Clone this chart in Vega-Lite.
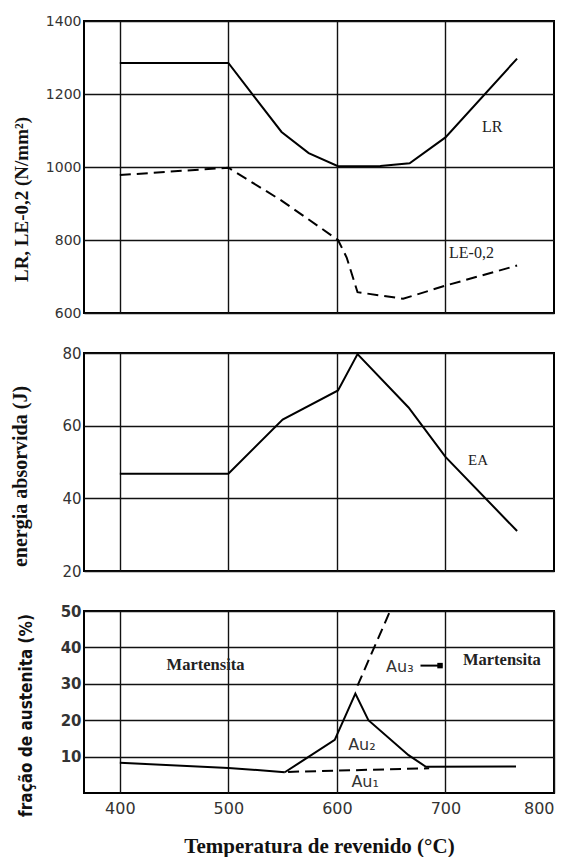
{
  "$schema": "https://vega.github.io/schema/vega-lite/v6.json",
  "padding": {"left": 8, "top": 13, "right": 10, "bottom": 0},
  "spacing": 40,
  "bounds": "flush",
  "config": {
    "view": {"stroke": "black", "strokeWidth": 2},
    "axis": {"gridColor": "#111", "gridWidth": 1.4, "gridOpacity": 1, "domain": false, "ticks": false, "labelFont": "DejaVu Sans", "labelColor": "#333", "labelFontSize": 14, "format": "d", "titleFont": "Liberation Serif", "titleFontWeight": "bold", "titleColor": "#111"}
  },
  "datasets": {
    "top": [
      {"s": "LR", "T": 400, "v": 1285}, {"s": "LR", "T": 500, "v": 1285}, {"s": "LR", "T": 524, "v": 1192}, {"s": "LR", "T": 549, "v": 1096}, {"s": "LR", "T": 574, "v": 1038}, {"s": "LR", "T": 601, "v": 1002}, {"s": "LR", "T": 640, "v": 1003}, {"s": "LR", "T": 667, "v": 1010}, {"s": "LR", "T": 700, "v": 1081}, {"s": "LR", "T": 766, "v": 1297},
      {"s": "LE", "T": 400, "v": 978}, {"s": "LE", "T": 500, "v": 998}, {"s": "LE", "T": 549, "v": 908}, {"s": "LE", "T": 601, "v": 800}, {"s": "LE", "T": 609, "v": 752}, {"s": "LE", "T": 619, "v": 657}, {"s": "LE", "T": 661, "v": 639}, {"s": "LE", "T": 700, "v": 675}, {"s": "LE", "T": 766, "v": 730}
    ],
    "topLabels": [
      {"t": "LR", "T": 743, "v": 1110},
      {"t": "LE-0,2", "T": 724, "v": 764}
    ],
    "mid": [
      {"T": 400, "v": 46.8}, {"T": 500, "v": 46.8}, {"T": 550, "v": 61.7}, {"T": 601, "v": 69.7}, {"T": 619, "v": 79.7}, {"T": 666, "v": 65}, {"T": 700, "v": 51.4}, {"T": 766, "v": 31}
    ],
    "midLabels": [
      {"t": "EA", "T": 730, "v": 50.6}
    ],
    "bot": [
      {"s": "base", "d": "solid", "T": 400, "v": 8.3}, {"s": "base", "d": "solid", "T": 500, "v": 6.9}, {"s": "base", "d": "solid", "T": 552, "v": 5.7},
      {"s": "au2", "d": "solid", "T": 552, "v": 5.7}, {"s": "au2", "d": "solid", "T": 565, "v": 8.2}, {"s": "au2", "d": "solid", "T": 598, "v": 14.6}, {"s": "au2", "d": "solid", "T": 617, "v": 27.3}, {"s": "au2", "d": "solid", "T": 629, "v": 20}, {"s": "au2", "d": "solid", "T": 666, "v": 10.4}, {"s": "au2", "d": "solid", "T": 682, "v": 7.2}, {"s": "au2", "d": "solid", "T": 765, "v": 7.3},
      {"s": "au1", "d": "dash", "T": 555, "v": 5.8}, {"s": "au1", "d": "dash", "T": 685, "v": 6.8},
      {"s": "au3", "d": "dash", "T": 619, "v": 29.5}, {"s": "au3", "d": "dash", "T": 649, "v": 50},
      {"s": "arrow", "d": "solid", "T": 677, "v": 35}, {"s": "arrow", "d": "solid", "T": 697, "v": 35}
    ],
    "botSerif": [
      {"t": "Martensita", "T": 479, "v": 35.2},
      {"t": "Martensita", "T": 752, "v": 36.5}
    ],
    "botSans": [
      {"t": "Au₃", "T": 658, "v": 34.6},
      {"t": "Au₂", "T": 623, "v": 13.2},
      {"t": "Au₁", "T": 626, "v": 3}
    ],
    "arrowHead": [
      {"T": 695, "v": 35}
    ]
  },
  "vconcat": [
    {
      "width": 470,
      "height": 292,
      "layer": [
        {
          "data": {"name": "top"},
          "transform": [{"filter": "datum.s === 'LR'"}],
          "mark": {"type": "line", "color": "black", "strokeWidth": 2},
          "encoding": {
            "x": {"field": "T", "type": "quantitative", "scale": {"domain": [367, 800], "nice": false, "zero": false}, "axis": {"values": [400, 500, 600, 700], "labels": false, "title": null, "grid": true}},
            "y": {"field": "v", "type": "quantitative", "scale": {"domain": [600, 1400], "nice": false, "zero": false}, "axis": {"values": [600, 800, 1000, 1200, 1400], "title": "LR, LE-0,2 (N/mm²)", "titleFontSize": 19, "titleX": -63, "titleY": 178, "titleBaseline": "middle", "labelPadding": 3, "grid": true}}
          }
        },
        {
          "data": {"name": "top"},
          "transform": [{"filter": "datum.s === 'LE'"}],
          "mark": {"type": "line", "color": "black", "strokeWidth": 2, "strokeDash": [11, 6]},
          "encoding": {
            "x": {"field": "T", "type": "quantitative"},
            "y": {"field": "v", "type": "quantitative"}
          }
        },
        {
          "data": {"name": "topLabels"},
          "mark": {"type": "text", "font": "Liberation Serif", "fontSize": 16, "color": "#222"},
          "encoding": {
            "x": {"field": "T", "type": "quantitative"},
            "y": {"field": "v", "type": "quantitative"},
            "text": {"field": "t"}
          }
        }
      ]
    },
    {
      "width": 470,
      "height": 218,
      "layer": [
        {
          "data": {"name": "mid"},
          "mark": {"type": "line", "color": "black", "strokeWidth": 2},
          "encoding": {
            "x": {"field": "T", "type": "quantitative", "scale": {"domain": [367, 800], "nice": false, "zero": false}, "axis": {"values": [400, 500, 600, 700], "labels": false, "title": null, "grid": true}},
            "y": {"field": "v", "type": "quantitative", "scale": {"domain": [20, 80], "nice": false, "zero": false}, "axis": {"values": [20, 40, 60, 80], "title": "energia absorvida (J)", "titleFontSize": 20, "titleX": -64, "titleY": 123, "titleBaseline": "middle", "labelPadding": 3, "labelFontSize": 15, "grid": true}}
          }
        },
        {
          "data": {"name": "midLabels"},
          "mark": {"type": "text", "font": "Liberation Serif", "fontSize": 15, "color": "#222"},
          "encoding": {
            "x": {"field": "T", "type": "quantitative"},
            "y": {"field": "v", "type": "quantitative"},
            "text": {"field": "t"}
          }
        }
      ]
    },
    {
      "width": 470,
      "height": 182,
      "layer": [
        {
          "data": {"name": "bot"},
          "transform": [{"filter": "datum.d === 'solid'"}],
          "mark": {"type": "line", "color": "black", "strokeWidth": 2},
          "encoding": {
            "x": {"field": "T", "type": "quantitative", "scale": {"domain": [367, 800], "nice": false, "zero": false}, "axis": {"values": [400, 500, 600, 700, 800], "title": "Temperatura de revenido (°C)", "titleFontSize": 21, "titleY": 53, "titleBaseline": "middle", "labelFontSize": 16, "labelPadding": 7, "grid": true}},
            "y": {"field": "v", "type": "quantitative", "scale": {"domain": [0, 50], "nice": false, "zero": false}, "axis": {"values": [10, 20, 30, 40, 50], "title": "fração de austenita (%)", "titleFont": "DejaVu Sans Condensed", "titleFontSize": 17, "titleX": -58, "titleY": 104, "titleBaseline": "middle", "labelPadding": 3, "labelFontSize": 15, "labelFontWeight": "bold", "grid": true}},
            "detail": {"field": "s"}
          }
        },
        {
          "data": {"name": "bot"},
          "transform": [{"filter": "datum.d === 'dash'"}],
          "mark": {"type": "line", "color": "black", "strokeWidth": 2, "strokeDash": [11, 6]},
          "encoding": {
            "x": {"field": "T", "type": "quantitative"},
            "y": {"field": "v", "type": "quantitative"},
            "detail": {"field": "s"}
          }
        },
        {
          "data": {"name": "arrowHead"},
          "mark": {"type": "square", "color": "black", "filled": true, "opacity": 1, "size": 30},
          "encoding": {
            "x": {"field": "T", "type": "quantitative"},
            "y": {"field": "v", "type": "quantitative"}
          }
        },
        {
          "data": {"name": "botSerif"},
          "mark": {"type": "text", "font": "Liberation Serif", "fontSize": 16.5, "fontWeight": "bold", "color": "#222"},
          "encoding": {
            "x": {"field": "T", "type": "quantitative"},
            "y": {"field": "v", "type": "quantitative"},
            "text": {"field": "t"}
          }
        },
        {
          "data": {"name": "botSans"},
          "mark": {"type": "text", "font": "DejaVu Sans", "fontSize": 16, "color": "#333"},
          "encoding": {
            "x": {"field": "T", "type": "quantitative"},
            "y": {"field": "v", "type": "quantitative"},
            "text": {"field": "t"}
          }
        }
      ]
    }
  ]
}
